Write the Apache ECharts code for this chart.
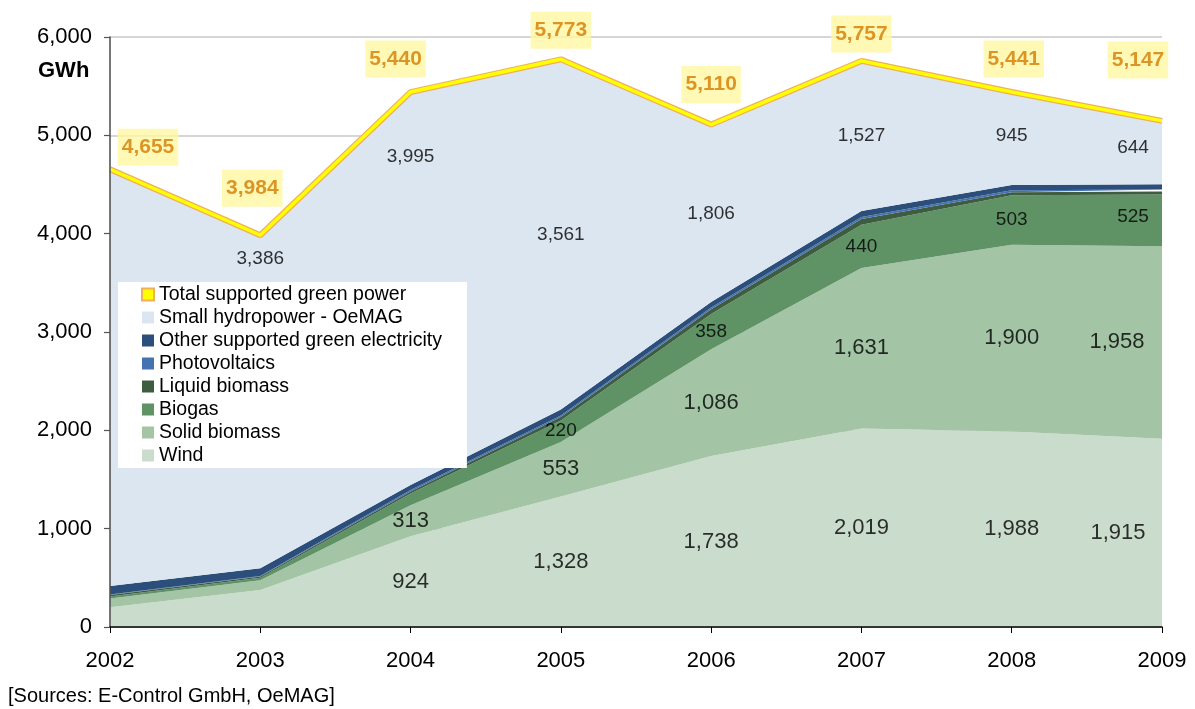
<!DOCTYPE html>
<html><head><meta charset="utf-8">
<script src="https://cdn.jsdelivr.net/npm/echarts@6/dist/echarts.min.js"></script>
<style>html,body{margin:0;padding:0;background:#fff}#c{width:1195px;height:709px}</style>
</head><body><div id="c"></div>
<script>
const years = ['2002','2003','2004','2005','2006','2007','2008','2009'];
const wind = [200, 376, 924, 1328, 1738, 2019, 1988, 1915];
const solidBiomass = [90, 100, 313, 553, 1086, 1631, 1900, 1958];
const biogas = [20, 25, 120, 220, 358, 440, 503, 525];
const liquidBiomass = [15, 12, 20, 35, 50, 60, 30, 30];
const photovoltaics = [5, 5, 15, 16, 18, 20, 20, 20];
const otherGreen = [87, 80, 53, 60, 54, 60, 55, 55];
const smallHydro = [4238, 3386, 3995, 3561, 1806, 1527, 945, 644];
const totalGreen = [4655, 3984, 5440, 5773, 5110, 5757, 5441, 5147];
const yTicks = [0, 1000, 2000, 3000, 4000, 5000, 6000];

const FONT = '"Liberation Sans", Arial, Helvetica, sans-serif';
const fmt = v => v.toLocaleString('en-US');

// band definitions (bottom -> top)
const bands = [
  {name:'Wind', data:wind, color:'#CADCCB'},
  {name:'Solid biomass', data:solidBiomass, color:'#A3C4A5'},
  {name:'Biogas', data:biogas, color:'#5F9265'},
  {name:'Liquid biomass', data:liquidBiomass, color:'#3E5C3F'},
  {name:'Photovoltaics', data:photovoltaics, color:'#4573B1'},
  {name:'Other supported green electricity', data:otherGreen, color:'#2C4E7B'},
  {name:'Small hydropower - OeMAG', data:smallHydro, color:'#DCE6F1'}
];
// which bands get labels, at which year indexes, font size and pixel offsets
const labelSpec = {
  'Wind': {idx:[2,3,4,5,6,7], size:22, off:{7:[-44,0]}},
  'Solid biomass': {idx:[2,3,4,5,6,7], size:22, off:{7:[-45,0]}},
  'Biogas': {idx:[3,4,5,6,7], size:19, off:{7:[-29,-4]}},
  'Small hydropower - OeMAG': {idx:[1,2,3,4,5,6,7], size:19, off:{1:[0,-143],2:[0,-132],6:[0,-3],7:[-29,-5]}}
};
const totalOffsets = [[38,-22],[-8,-47],[-15,-33],[0,-29],[0,-40],[0,-27],[2,-33],[-24,-61]];

const series = [];
const cum = years.map(() => 0);
bands.forEach(b => {
  series.push({
    name: b.name, type: 'line', stack: 'total', data: b.data,
    symbol: 'none', smooth: false,
    lineStyle: {width: 0}, itemStyle: {color: b.color},
    areaStyle: {color: b.color, opacity: 1}, z: 2
  });
  const spec = labelSpec[b.name];
  if (spec) {
    const pts = [];
    spec.idx.forEach(i => {
      const mid = cum[i] + b.data[i] / 2;
      const off = (spec.off && spec.off[i]) || [0, 0];
      pts.push({value: [i, mid], label: {formatter: fmt(b.data[i]), offset: off}});
    });
    series.push({
      name: b.name + '_lbl', type: 'scatter', data: pts, symbolSize: 0, z: 6,
      silent: true,
      label: {show: true, position: 'inside', color: '#000', fontSize: spec.size, fontFamily: FONT,
        textBorderWidth: 0, textBorderColor: 'transparent', textShadowBlur: 0}
    });
  }
  b.data.forEach((v, i) => cum[i] += v);
});

// total line: orange outline + yellow core
series.push({
  name: 'total_outline', type: 'line', data: totalGreen, symbol: 'none',
  lineStyle: {color: '#F0B05A', width: 6}, z: 4, silent: true
});
series.push({
  name: 'Total supported green power', type: 'line', data: totalGreen, symbol: 'none',
  lineStyle: {color: '#FFFF00', width: 3.5},
  itemStyle: {color: '#FFFF00', borderColor: '#F0B05A', borderWidth: 1}, z: 5
});
series.push({
  name: 'total_lbl', type: 'scatter', symbolSize: 0, z: 7, silent: true,
  data: totalGreen.map((v, i) => ({value: [i, v], label: {formatter: fmt(v), offset: totalOffsets[i]}})),
  label: {show: true, position: 'inside', color: '#D37C00', fontWeight: 'bold', fontSize: 21,
    fontFamily: FONT, backgroundColor: '#FFF7A3', padding: [8, 4, 8, 4],
    textBorderWidth: 0, textBorderColor: 'transparent'}
});

const chart = echarts.init(document.getElementById('c'), null, {renderer: 'canvas'});
chart.setOption({
  backgroundColor: '#fff',
  animation: false,
  textStyle: {fontFamily: FONT},
  grid: {left: 110, right: 33, top: 37, bottom: 82, containLabel: false},
  xAxis: {
    type: 'category', data: years, boundaryGap: false,
    axisLine: {lineStyle: {color: '#000', width: 1.5}},
    axisTick: {show: true, alignWithLabel: true, length: 6, lineStyle: {color: '#000'}},
    axisLabel: {color: '#000', fontSize: 22, margin: 23, fontFamily: FONT},
    splitLine: {show: false}, z: 10
  },
  yAxis: [{
    type: 'value', min: yTicks[0], max: yTicks[yTicks.length - 1], interval: 1000,
    axisLine: {show: false},
    axisTick: {show: false},
    axisLabel: {color: '#000', fontSize: 22, margin: 18, fontFamily: FONT,
      formatter: v => fmt(v)},
    splitLine: {show: true, lineStyle: {color: '#C8C8C8', width: 1.5}}
  }, {
    type: 'value', position: 'left', min: yTicks[0], max: yTicks[yTicks.length - 1], interval: 1000,
    axisLine: {show: true, lineStyle: {color: '#555', width: 1.6}},
    axisTick: {show: true, length: 6, lineStyle: {color: '#555', width: 1.2}},
    axisLabel: {show: false}, splitLine: {show: false}, z: 10
  }],
  legend: {
    orient: 'vertical', left: 118, top: 282,
    backgroundColor: '#fff', padding: [1, 25, 1, 23],
    itemWidth: 12, itemHeight: 12, itemGap: 0, icon: 'rect',
    textStyle: {fontSize: 19.5, color: '#000', lineHeight: 23, fontFamily: FONT},
    data: ['Total supported green power', 'Small hydropower - OeMAG', 'Other supported green electricity',
      'Photovoltaics', 'Liquid biomass', 'Biogas', 'Solid biomass', 'Wind'],
    z: 5
  },
  graphic: [
    {type: 'text', left: 38, top: 60, style: {text: 'GWh', font: 'bold 22px ' + FONT, fill: '#000'}},
    {type: 'text', left: 8, top: 686, style: {text: '[Sources: E-Control GmbH, OeMAG]', font: '20px ' + FONT, fill: '#000'}}
  ],
  series: series
});
</script>
</body></html>
